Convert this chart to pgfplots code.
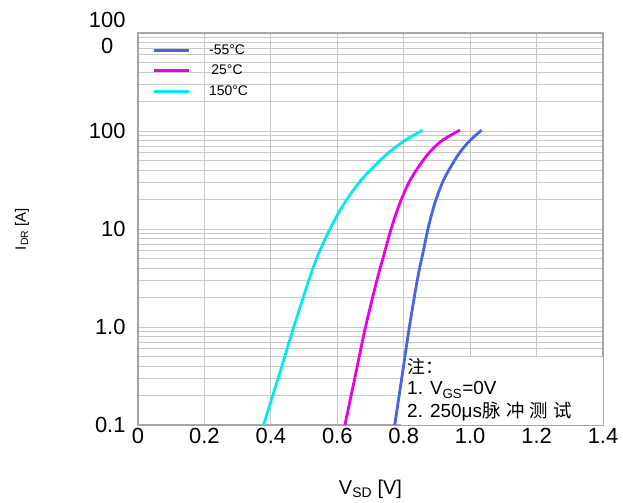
\documentclass[border=0pt]{standalone}
\usepackage{fontspec}
\setmainfont{Liberation Sans}
\newfontfamily\cjk{Noto Sans CJK SC}
\usepackage{pgfplots}
\pgfplotsset{compat=1.18}
\definecolor{cblue}{RGB}{70,100,230}
\definecolor{cmag}{RGB}{235,0,230}
\definecolor{ccyan}{RGB}{0,235,235}
\definecolor{gridc}{RGB}{200,200,200}
\begin{document}
\begin{tikzpicture}
\begin{axis}[
  scale only axis, width=465bp, height=392bp,
  xmin=0, xmax=1.4, ymode=log, ymin=0.1, ymax=1000,
  xtick={0,0.2,0.4,0.6,0.8,1.0,1.2,1.4},
  xticklabels={0,0.2,0.4,0.6,0.8,1.0,1.2,1.4},
  ytick={0.1,1,10,100,1000},
  yticklabels={0.1,1.0,10,100,{\shortstack{100\\[7bp]0}}},
  /pgf/number format/assume math mode=true,
  ticklabel style={font=\fontsize{22}{26}\selectfont},
  yticklabel style={xshift=-9bp},
  major tick length=0pt, minor tick length=0pt,
  grid=both,
  major grid style={gridc, line width=0.9bp},
  minor grid style={gridc, line width=0.7bp},
  axis line style={gray!70, line width=1.4bp},
  xlabel={V\textsubscript{SD} [V]},
  ylabel={I\textsubscript{DR} [A]},
  xlabel style={at={(axis description cs:0.5,-0.163)}, anchor=center, font=\fontsize{20}{22}\selectfont},
  ylabel style={at={(axis description cs:-0.2495,0.5)}, anchor=center, font=\fontsize{15}{17}\selectfont},
  legend style={at={(axis description cs:0.03,0.975)}, anchor=north west, draw=none, fill=none,
    font=\fontsize{14}{16}\selectfont, row sep=5bp, column sep=17bp, inner sep=0pt},
  legend cell align=left,
  legend image code/.code={\draw[#1, line width=3bp] (0bp,0bp) -- (35bp,0bp);},
]
\fill[white] (axis cs:0.792,0.1) rectangle (axis cs:1.4,0.5);
\addplot[cblue, line width=2.8bp, smooth] coordinates {(0.773,0.1) (0.795,0.316) (0.817,1) (0.842,3.16) (0.8575,5.62) (0.873,10) (0.8925,17.8) (0.92,31.6) (0.9625,56.2) (0.9985,79.4) (1.035,102)};
\addlegendentry{-55°C}
\addplot[cmag, line width=2.8bp, smooth] coordinates {(0.623,0.1) (0.654,0.316) (0.685,1) (0.721,3.16) (0.7415,5.62) (0.762,10) (0.787,17.8) (0.8195,31.6) (0.8695,56.2) (0.9145,79.4) (0.9695,102)};
\addlegendentry{\,25°C}
\addplot[ccyan, line width=2.8bp, smooth] coordinates {(0.378,0.1) (0.424,0.316) (0.469,1) (0.5165,3.16) (0.544,5.62) (0.578,10) (0.619,17.8) (0.672,31.6) (0.745,56.2) (0.802,79.4) (0.857,102)};
\addlegendentry{150°C}
\node[anchor=west, inner sep=0pt, font=\fontsize{18}{20}\selectfont] at (axis cs:0.81,0.391) {\cjk 注：};
\node[anchor=west, inner sep=0pt, font=\fontsize{19}{21}\selectfont] at (axis cs:0.81,0.228) {1. V\textsubscript{GS}=0V};
\node[anchor=west, inner sep=0pt, font=\fontsize{19}{21}\selectfont] at (axis cs:0.81,0.136) {2. 250μs{\cjk\fontsize{18.5}{20}\selectfont \hspace{1bp}脉\hspace{5bp}冲\hspace{5bp}测\hspace{5bp}试}};
\end{axis}
\pgfresetboundingbox
\path[use as bounding box] ([shift={(-138bp,-78bp)}]current axis.south west) rectangle ([shift={(20bp,33bp)}]current axis.north east);
\end{tikzpicture}
\end{document}
